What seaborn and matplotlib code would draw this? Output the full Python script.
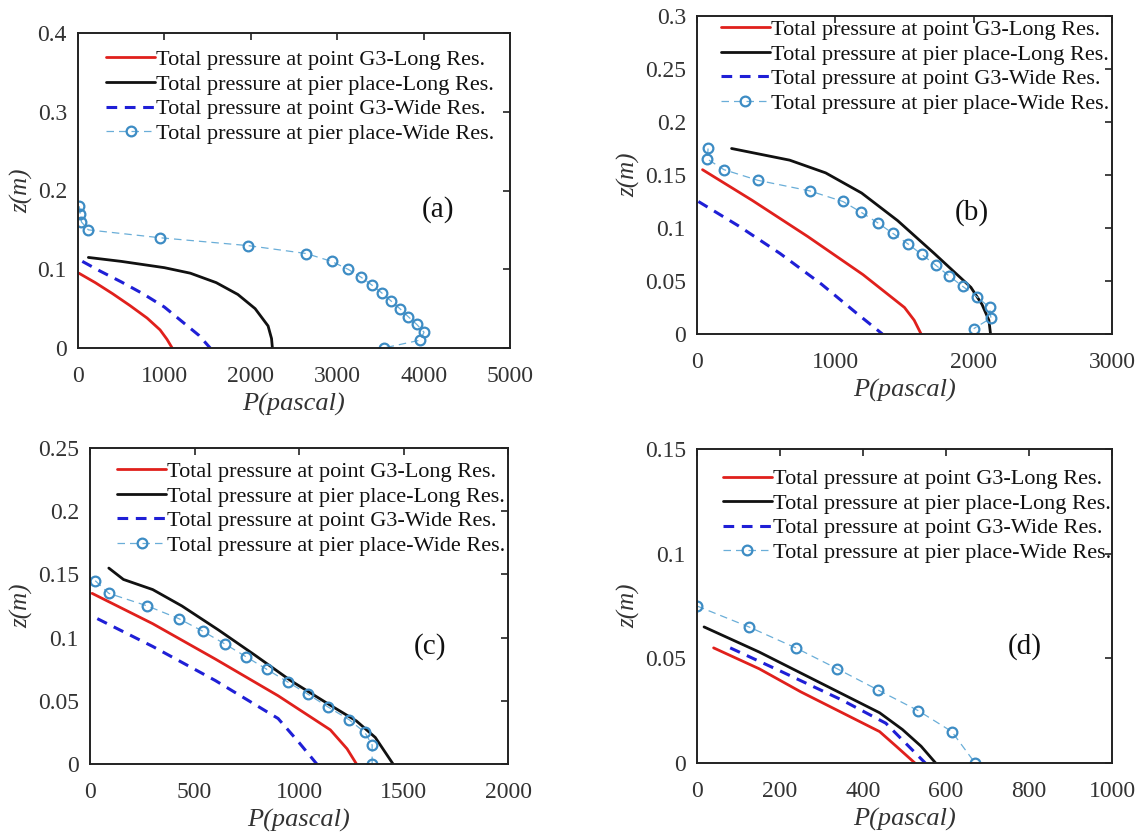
import numpy as np
import pandas as pd
import matplotlib
matplotlib.use("Agg")
import matplotlib.pyplot as plt
from matplotlib.ticker import FuncFormatter, MultipleLocator
import seaborn as sns

# ---------------- data: pressure P (Pa) against height z (m) ----------------
# (a)
a_g3_long_p = [10, 200, 400, 600, 800, 950, 1030, 1090]
a_g3_long_z = [0.095, 0.083, 0.069, 0.054, 0.038, 0.023, 0.011, 0.0]
a_pier_long_p = [120, 500, 1000, 1300, 1600, 1850, 2050, 2200, 2240, 2250]
a_pier_long_z = [0.115, 0.110, 0.102, 0.095, 0.083, 0.068, 0.050, 0.028, 0.012, 0.0]
a_g3_wide_p = [50, 250, 500, 750, 1000, 1200, 1400, 1530]
a_g3_wide_z = [0.110, 0.098, 0.084, 0.069, 0.052, 0.034, 0.016, 0.0]
a_pier_wide_p = [15, 25, 40, 120, 950, 1970, 2640, 2935, 3125, 3275, 3400,
                 3515, 3620, 3725, 3820, 3920, 4005, 3960, 3540]
a_pier_wide_z = [0.18, 0.17, 0.16, 0.15, 0.14, 0.13, 0.12, 0.11, 0.10, 0.09, 0.08,
                 0.07, 0.06, 0.05, 0.04, 0.03, 0.02, 0.01, 0.0]

# (b)
b_g3_long_p = [40, 400, 800, 1200, 1500, 1570, 1620]
b_g3_long_z = [0.155, 0.126, 0.092, 0.056, 0.025, 0.013, 0.0]
b_pier_long_p = [250, 670, 930, 1190, 1450, 1715, 1980, 2060, 2110, 2122]
b_pier_long_z = [0.175, 0.164, 0.152, 0.133, 0.107, 0.076, 0.044, 0.028, 0.013, 0.0]
b_g3_wide_p = [10, 300, 600, 900, 1150, 1340]
b_g3_wide_z = [0.125, 0.102, 0.076, 0.047, 0.020, 0.0]
b_pier_wide_p = [80, 75, 195, 440, 815, 1055, 1185, 1305, 1415, 1525, 1625,
                 1725, 1820, 1920, 2025, 2115, 2125, 2000]
b_pier_wide_z = [0.175, 0.165, 0.155, 0.145, 0.135, 0.125, 0.115, 0.105, 0.095,
                 0.085, 0.075, 0.065, 0.055, 0.045, 0.035, 0.025, 0.015, 0.005]

# (c)
c_g3_long_p = [10, 300, 600, 900, 1150, 1230, 1275]
c_g3_long_z = [0.135, 0.111, 0.083, 0.054, 0.027, 0.012, 0.0]
c_pier_long_p = [90, 160, 300, 440, 615, 790, 960, 1135, 1275, 1365, 1450]
c_pier_long_z = [0.155, 0.146, 0.138, 0.125, 0.106, 0.086, 0.066, 0.048, 0.034, 0.021, 0.0]
c_g3_wide_p = [35, 300, 600, 900, 1000, 1085]
c_g3_wide_z = [0.115, 0.093, 0.066, 0.036, 0.017, 0.0]
c_pier_wide_p = [25, 90, 275, 425, 540, 645, 745, 845, 945, 1045, 1140,
                 1240, 1315, 1350, 1350]
c_pier_wide_z = [0.145, 0.135, 0.125, 0.115, 0.105, 0.095, 0.085, 0.075, 0.065,
                 0.055, 0.045, 0.035, 0.025, 0.015, 0.0]

# (d)
d_g3_long_p = [40, 150, 250, 350, 440, 480, 525]
d_g3_long_z = [0.055, 0.045, 0.034, 0.024, 0.015, 0.008, 0.0]
d_pier_long_p = [17, 150, 300, 440, 495, 540, 575]
d_pier_long_z = [0.065, 0.053, 0.038, 0.024, 0.016, 0.008, 0.0]
d_g3_wide_p = [80, 200, 350, 455, 500, 550]
d_g3_wide_z = [0.055, 0.044, 0.030, 0.019, 0.010, 0.0]
d_pier_wide_p = [0, 125, 238, 338, 435, 533, 614, 670]
d_pier_wide_z = [0.075, 0.065, 0.055, 0.045, 0.035, 0.025, 0.015, 0.0]

series_names = [
    "Total pressure at point G3-Long Res.",
    "Total pressure at pier place-Long Res.",
    "Total pressure at point G3-Wide Res.",
    "Total pressure at pier place-Wide Res.",
]
panel_tags = ["(a)", "(b)", "(c)", "(d)"]

# ---------------- styling ----------------
sns.set_style("white")
plt.rcParams["font.family"] = ["Liberation Serif", "DejaVu Serif"]

fig = plt.figure(figsize=(11.36, 8.34), dpi=100)
W, H = 1136.0, 834.0


def px_axes(left, right, top, bottom):
    return fig.add_axes([left / W, 1 - bottom / H, (right - left) / W, (bottom - top) / H])


panels = [
    dict(box=(78, 510, 33, 348), xmax=5000, xstep=1000, ymax=0.4, ystep=0.1,
         tag_xy=(4170, 0.176), leg=(0.065, 0.947),
         data=[(a_g3_long_p, a_g3_long_z), (a_pier_long_p, a_pier_long_z),
               (a_g3_wide_p, a_g3_wide_z), (a_pier_wide_p, a_pier_wide_z)]),
    dict(box=(697, 1112, 16, 334), xmax=3000, xstep=1000, ymax=0.3, ystep=0.05,
         tag_xy=(1990, 0.115), leg=(0.057, 0.989),
         data=[(b_g3_long_p, b_g3_long_z), (b_pier_long_p, b_pier_long_z),
               (b_g3_wide_p, b_g3_wide_z), (b_pier_wide_p, b_pier_wide_z)]),
    dict(box=(90, 508, 448, 764), xmax=2000, xstep=500, ymax=0.25, ystep=0.05,
         tag_xy=(1625, 0.093), leg=(0.065, 0.957),
         data=[(c_g3_long_p, c_g3_long_z), (c_pier_long_p, c_pier_long_z),
               (c_g3_wide_p, c_g3_wide_z), (c_pier_wide_p, c_pier_wide_z)]),
    dict(box=(697, 1112, 449, 763), xmax=1000, xstep=200, ymax=0.15, ystep=0.05,
         tag_xy=(790, 0.0557), leg=(0.062, 0.937),
         data=[(d_g3_long_p, d_g3_long_z), (d_pier_long_p, d_pier_long_z),
               (d_g3_wide_p, d_g3_wide_z), (d_pier_wide_p, d_pier_wide_z)]),
]

line_styles = [
    dict(color="#e0201c", lw=2.0, ls="-"),
    dict(color="#111111", lw=2.0, ls="-"),
    dict(color="#1f1fd6", lw=2.2, ls=(0, (3.5, 2.5))),
    dict(color="#6aaed8", lw=0.9, ls=(0, (6, 4)), marker="o", ms=7,
         mfc="none", mec="#3d8cc4", mew=1.6),
]

fmt = FuncFormatter(lambda v, _: f"{v:g}")

for spec, tag in zip(panels, panel_tags):
    ax = px_axes(*spec["box"])
    for (p, z), name, st in zip(spec["data"], series_names, line_styles):
        df = pd.DataFrame({"P": p, "z": z})
        kw = dict(color=st["color"], linewidth=st["lw"], linestyle=st["ls"])
        if "marker" in st:
            kw.update(marker=st["marker"], markersize=st["ms"],
                      markerfacecolor=st["mfc"], markeredgecolor=st["mec"],
                      markeredgewidth=st["mew"])
        sns.lineplot(data=df, x="P", y="z", sort=False, estimator=None,
                     ax=ax, label=name, **kw)

    ax.set_xlim(0, spec["xmax"])
    ax.set_ylim(0, spec["ymax"])
    ax.xaxis.set_major_locator(MultipleLocator(spec["xstep"]))
    ax.yaxis.set_major_locator(MultipleLocator(spec["ystep"]))
    ax.xaxis.set_major_formatter(fmt)
    ax.yaxis.set_major_formatter(fmt)
    ax.tick_params(direction="in", length=5, width=1.2, top=True, right=True,
                   labelsize=17, labelcolor="#333333", color="#222222")
    ax.tick_params(axis="x", pad=13)
    ax.tick_params(axis="y", pad=8)
    for s in ax.spines.values():
        s.set_color("#222222")
        s.set_linewidth(1.4)
    ax.set_xlabel("P(pascal)", fontsize=19, style="italic", color="#333333", labelpad=4)
    ax.set_ylabel("z(m)", fontsize=18, style="italic", color="#333333", labelpad=3)
    ax.text(*spec["tag_xy"], tag, fontsize=21, ha="center", va="center", color="#111111")

    leg = ax.legend(loc="upper left", bbox_to_anchor=spec["leg"], frameon=False,
                    fontsize=16, handlelength=2.2, handletextpad=0.05,
                    labelspacing=0.18, borderpad=0.0, borderaxespad=0.0)
    for t in leg.get_texts():
        t.set_color("#111111")

fig.savefig("out.png", dpi=100, facecolor="white")
